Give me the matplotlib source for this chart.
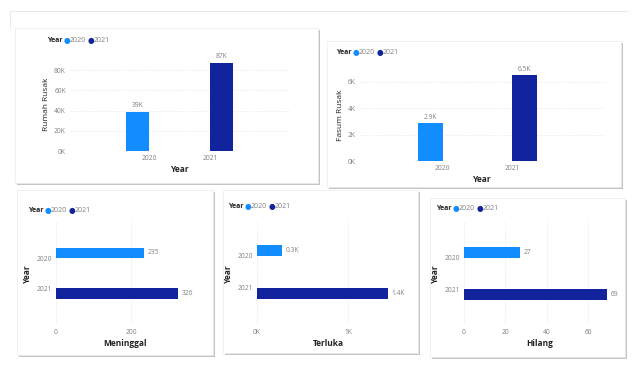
import matplotlib.pyplot as plt
from matplotlib.patches import Rectangle
import numpy as np

W, H = 640, 370

years = ["2020", "2021"]
rumah_rusak = [39000, 87000]
fasum_rusak = [2850, 6500]
meninggal = [235, 326]
terluka = [275, 1440]
hilang = [27, 69]

rumah_labels = ["39K", "87K"]
fasum_labels = ["2.9K", "6.5K"]
meninggal_labels = ["235", "326"]
terluka_labels = ["0.3K", "1.4K"]
hilang_labels = ["27", "69"]

c2020 = "#118DFF"
c2021 = "#12239E"
colors = [c2020, c2021]
tick_col = "#808080"
title_col = "#252423"

plt.rcParams['font.family'] = ['Open Sans', 'DejaVu Sans']

fig = plt.figure(figsize=(6.4, 3.7), dpi=100)
fig.patch.set_facecolor("white")


def rect(x0, y0, x1, y1):
    return [x0 / W, 1 - y1 / H, (x1 - x0) / W, (y1 - y0) / H]


def card(x0, y0, x1, y1):
    # shadow then white card, both under the axes
    fig.add_artist(Rectangle((x0 / W + 2 / W, 1 - y1 / H - 2 / H), (x1 - x0) / W, (y1 - y0) / H,
                             transform=fig.transFigure, facecolor="#c4c4c4", edgecolor="none", zorder=-2))
    fig.add_artist(Rectangle((x0 / W, 1 - y1 / H), (x1 - x0) / W, (y1 - y0) / H,
                             transform=fig.transFigure, facecolor="white", edgecolor="#ececec",
                             linewidth=0.5, zorder=-1))


def legend(x, y):
    fy = 1 - y / H
    fig.text(x / W, fy, "Year", fontsize=5, fontweight="bold", color=title_col, va="center")
    fig.text((x + 17) / W, fy, "●", fontsize=5.5, color=c2020, va="center", family="DejaVu Sans")
    fig.text((x + 23) / W, fy, "2020", fontsize=5, color=tick_col, va="center")
    fig.text((x + 41) / W, fy, "●", fontsize=5.5, color=c2021, va="center", family="DejaVu Sans")
    fig.text((x + 47) / W, fy, "2021", fontsize=5, color=tick_col, va="center")


def style(ax):
    for s in ax.spines.values():
        s.set_visible(False)
    ax.tick_params(length=0, labelsize=4.8, labelcolor=tick_col, pad=3)
    ax.set_facecolor("none")
    ax.set_axisbelow(True)


# page frame lines
fig.add_artist(plt.Line2D([10 / W, 628 / W], [1 - 11 / H, 1 - 11 / H], transform=fig.transFigure,
                          color="#e6e6e6", linewidth=0.6, zorder=-3))
fig.add_artist(plt.Line2D([10 / W, 10 / W], [1 - 11 / H, 1 - 28 / H], transform=fig.transFigure,
                          color="#e6e6e6", linewidth=0.6, zorder=-3))

card(15, 28, 318, 183)
card(327, 41, 621, 187)
card(17, 190, 213, 355)
card(223, 190, 418, 353)
card(430, 198, 625, 357)


def column_panel(box, values, labels, ylim, yticks, yticklabels, ylabel, xlim, bw):
    ax = fig.add_axes(rect(*box))
    style(ax)
    x = np.arange(len(years))
    offs = [-bw / 2, bw / 2]
    for i in range(len(years)):
        ax.bar(x[i] + offs[i], values[i], width=bw, color=colors[i], zorder=3)
        ax.text(x[i] + offs[i], values[i] + ylim[1] * 0.03, labels[i], ha="center", va="bottom",
                fontsize=4.8, color=tick_col)
    ax.set_xlim(*xlim)
    ax.set_ylim(*ylim)
    ax.set_xticks(x)
    ax.set_xticklabels(years)
    ax.set_yticks(yticks)
    ax.set_yticklabels(yticklabels)
    ax.yaxis.grid(True, linestyle=":", color="#e2e2e2", linewidth=0.6)
    ax.set_xlabel("Year", fontsize=6, fontweight="bold", color=title_col, labelpad=2)
    ax.set_ylabel(ylabel, fontsize=6, color=title_col, labelpad=3)
    return ax


def bar_panel(box, values, labels, xlim, xticks, xticklabels, xlabel, ylim, bh):
    ax = fig.add_axes(rect(*box))
    style(ax)
    y = np.arange(len(years))
    offs = [-bh / 2, bh / 2]
    for i in range(len(years)):
        ax.barh(y[i] + offs[i], values[i], height=bh, color=colors[i], zorder=3)
        ax.text(values[i] + xlim[1] * 0.025, y[i] + offs[i], labels[i], ha="left", va="center",
                fontsize=4.8, color=tick_col)
    ax.set_xlim(*xlim)
    ax.set_ylim(*ylim)
    ax.set_yticks(y)
    ax.set_yticklabels(years)
    ax.set_xticks(xticks)
    ax.set_xticklabels(xticklabels)
    ax.xaxis.grid(True, linestyle=":", color="#e2e2e2", linewidth=0.6)
    ax.set_xlabel(xlabel, fontsize=6, fontweight="bold", color=title_col, labelpad=2)
    ax.set_ylabel("Year", fontsize=6, fontweight="bold", color=title_col, labelpad=3)
    return ax


column_panel((70, 58, 290, 151), rumah_rusak, rumah_labels, (0, 92000),
             [0, 20000, 40000, 60000, 80000], ["0K", "20K", "40K", "60K", "80K"],
             "Rumah Rusak", (-1.31, 2.32), 0.38)
column_panel((360, 70, 605, 161), fasum_rusak, fasum_labels, (0, 6900),
             [0, 2000, 4000, 6000], ["0K", "2K", "4K", "6K"],
             "Fasum Rusak", (-1.2, 2.35), 0.36)

bar_panel((56, 222, 195, 325), meninggal, meninggal_labels, (0, 370),
          [0, 200], ["0", "200"], "Meninggal", (2.23, -1.2), 0.35)
bar_panel((257, 222, 400, 325), terluka, terluka_labels, (0, 1570),
          [0, 1000], ["0K", "1K"], "Terluka", (2.16, -1.06), 0.35)
bar_panel((464, 222, 615, 325), hilang, hilang_labels, (0, 73),
          [0, 20, 40, 60], ["0", "20", "40", "60"], "Hilang", (2.16, -1.16), 0.37)

legend(47, 40)
legend(336, 53)
legend(28, 211)
legend(228, 207)
legend(436, 208)

fig.savefig("out.png", dpi=100, facecolor="white")
